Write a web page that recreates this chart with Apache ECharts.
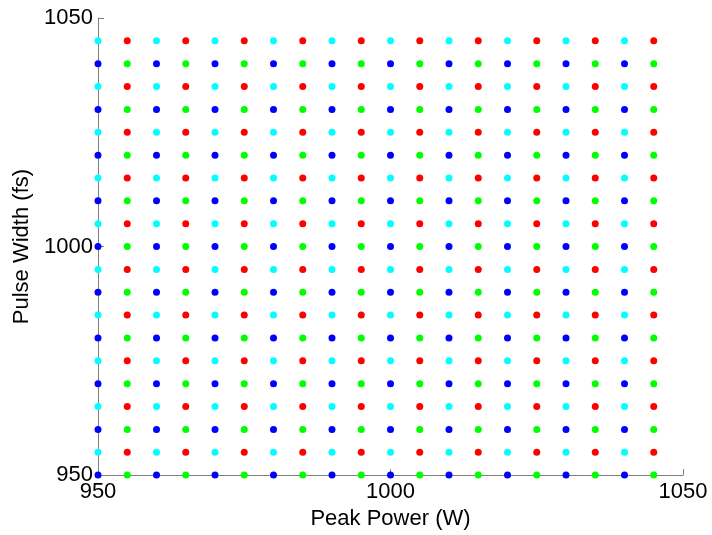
<!DOCTYPE html>
<html>
<head>
<meta charset="utf-8">
<script src="https://cdn.jsdelivr.net/npm/echarts@6/dist/echarts.min.js"></script>
<style>html,body{margin:0;padding:0;background:#fff}#c{width:712px;height:535px}</style>
</head>
<body>
<div id="c"></div>
<script>
// Peak power columns (W): even-indexed and odd-indexed positions
var powerEven = [950, 960, 970, 980, 990, 1000, 1010, 1020, 1030, 1040];
var powerOdd  = [955, 965, 975, 985, 995, 1005, 1015, 1025, 1035, 1045];
// Pulse width rows (fs)
var widthEven = [950, 960, 970, 980, 990, 1000, 1010, 1020, 1030, 1040];
var widthOdd  = [955, 965, 975, 985, 995, 1005, 1015, 1025, 1035, 1045];
var xTicks = [950, 1000, 1050];
var yTicks = [950, 1000, 1050];

function grid(xs, ys) {
  var out = [];
  xs.forEach(function (x) { ys.forEach(function (y) { out.push([x, y]); }); });
  return out;
}
var blueData  = grid(powerEven, widthEven);
var greenData = grid(powerOdd,  widthEven);
var cyanData  = grid(powerEven, widthOdd);
var redData   = grid(powerOdd,  widthOdd);

var FONT = 'Liberation Sans, Arial, sans-serif';
var chart = echarts.init(document.getElementById('c'), null, {renderer: 'canvas'});
var axisCommon = {
  type: 'value',
  min: xTicks[0], max: xTicks[xTicks.length - 1], interval: 50,
  splitLine: {show: false},
  axisLine: {show: true, onZero: false, lineStyle: {color: '#7f7f7f', width: 1}},
  axisTick: {show: true, inside: true, length: 6, lineStyle: {color: '#7f7f7f'}},
  axisLabel: {color: '#000', fontSize: 22, fontFamily: FONT,
    formatter: function (v) { return String(v); }},
  nameLocation: 'middle',
  nameTextStyle: {color: '#000', fontSize: 22, fontFamily: FONT}
};
function ser(data, color) {
  return {type: 'scatter', data: data, symbol: 'circle', symbolSize: 7,
    itemStyle: {color: color, opacity: 1}, silent: true, animation: false};
}
chart.setOption({
  animation: false,
  backgroundColor: '#fff',
  grid: {left: 98, right: 29, top: 18, bottom: 55, containLabel: false},
  xAxis: Object.assign({}, axisCommon, {
    name: 'Peak Power (W)', nameGap: 31,
    axisLabel: Object.assign({}, axisCommon.axisLabel, {margin: 6})
  }),
  yAxis: Object.assign({}, axisCommon, {
    min: yTicks[0], max: yTicks[yTicks.length - 1],
    name: 'Pulse Width (fs)', nameGap: 60,
    axisLabel: Object.assign({}, axisCommon.axisLabel, {margin: 5})
  }),
  series: [
    ser(blueData, '#0000ff'),
    ser(greenData, '#00ff00'),
    ser(cyanData, '#00ffff'),
    ser(redData, '#ff0000')
  ]
});
</script>
</body>
</html>
